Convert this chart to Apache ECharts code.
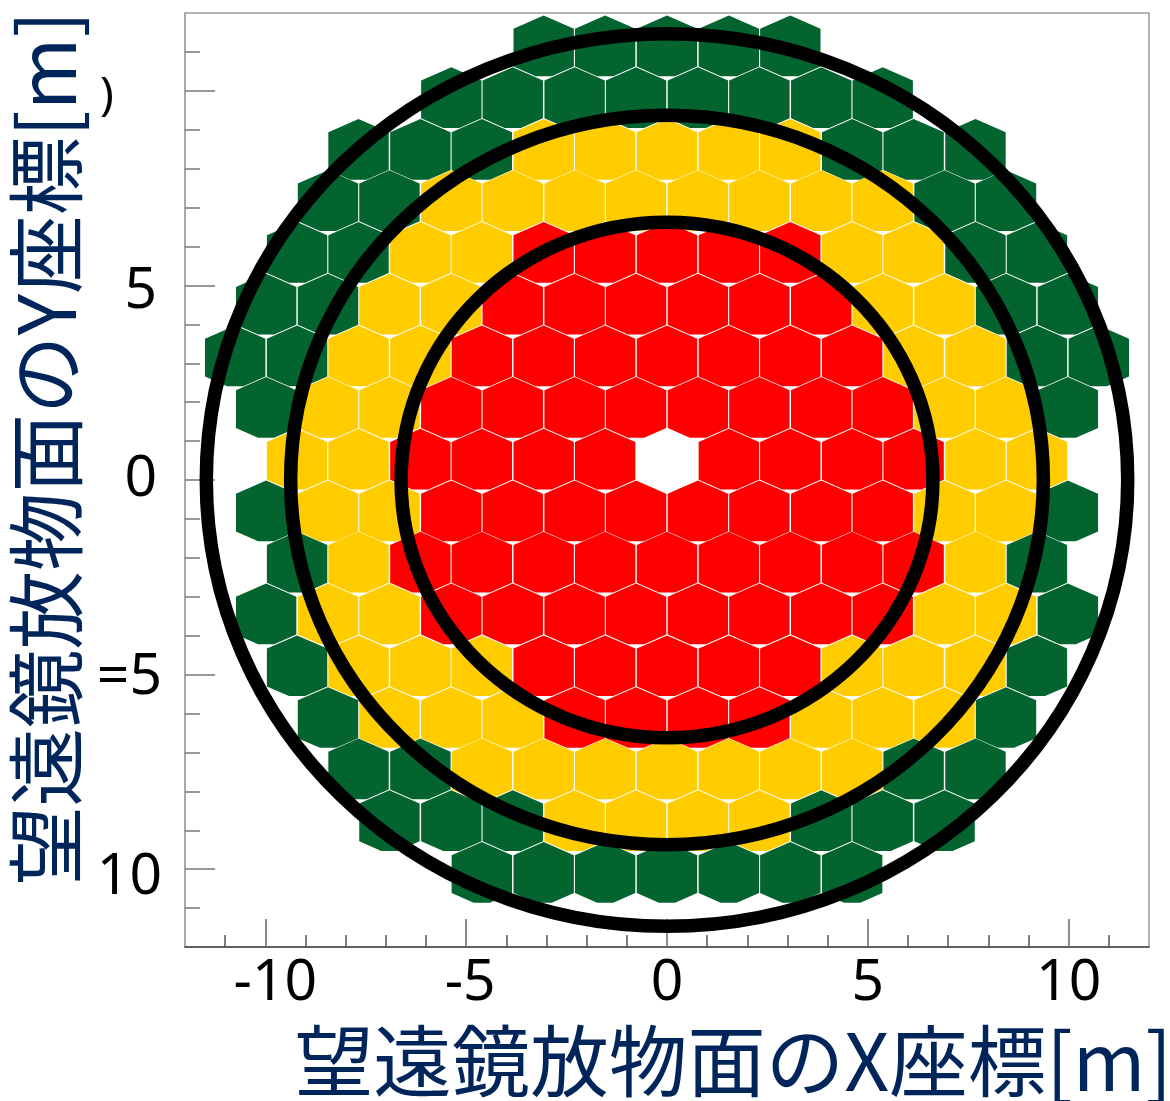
<!DOCTYPE html>
<html>
<head>
<meta charset="utf-8">
<script src="https://cdn.jsdelivr.net/npm/echarts@6/dist/echarts.min.js"></script>
<style>html,body{margin:0;padding:0;background:#fff}#c{width:1170px;height:1101px}</style>
</head>
<body>
<div id="c"></div>
<script>
// Mirror centres: y of each row (m), and |x| of the mirrors in that row by zone (m).
const rowY = [11.11, 9.78, 8.45, 7.13, 5.80, 4.47, 3.14, 1.82, 0.49, -0.84, -2.16, -3.49, -4.82, -6.15, -7.47, -8.80, -10.13];
const outerX = [
  [0, 1.54, 3.07], [0.77, 2.30, 3.84, 5.37], [4.61, 6.14, 7.68], [6.91, 8.44], [7.68, 9.21],
  [8.44, 9.98], [9.21, 10.75], [9.98], [], [9.98], [9.21], [9.98], [9.21], [8.44],
  [6.14, 7.68], [3.84, 5.37, 6.91], [0, 1.54, 3.07, 4.61]
];
const middleX = [
  [], [], [0, 1.54, 3.07], [0.77, 2.30, 3.84, 5.37], [4.61, 6.14],
  [5.37, 6.91], [6.14, 7.68], [6.91, 8.44], [7.68, 9.21], [6.91, 8.44], [7.68], [6.91, 8.44], [4.61, 6.14, 7.68], [3.84, 5.37, 6.91],
  [0, 1.54, 3.07, 4.61], [0.77, 2.30], []
];
const innerX = [
  [], [], [], [], [0, 1.54, 3.07],
  [0.77, 2.30, 3.84], [0, 1.54, 3.07, 4.61], [0.77, 2.30, 3.84, 5.37], [1.54, 3.07, 4.61, 6.14], [0.77, 2.30, 3.84, 5.37],
  [0, 1.54, 3.07, 4.61, 6.14], [0.77, 2.30, 3.84, 5.37], [0, 1.54, 3.07], [0.77, 2.30], [], [], []
];
const ringRadii = [11.47, 9.37, 6.62];
const majorTicks = [-10, -5, 0, 5, 10];
const minorTicks = [-11, -9, -8, -7, -6, -4, -3, -2, -1, 1, 2, 3, 4, 6, 7, 8, 9, 11];
const xTickLabels = { '-10': '{w|-10}', '-5': '{n|-5}', '0': '{p|0}', '5': '{p|5}', '10': '{p|10}' };
const yTickLabels = { '-10': '{c|10}', '-5': '{b|=5}', '0': '{p|0}', '5': '{a|5}', '10': '' };
const xTitle = '望遠鏡放物面のX座標[m]';
const yTitle = '望遠鏡放物面のY座標[m]';

const navy = '#00255A';
const hexPath = 'path://M0,-32.2L30,-19L30,18.8L8,28.5L-8,28.5L-30,18.8L-30,-19Z';

function points(table) {
  const out = [];
  table.forEach((xs, i) => xs.forEach(x => {
    out.push([x, rowY[i]]);
    if (x !== 0) out.push([-x, rowY[i]]);
  }));
  return out;
}
function hexSeries(name, table, color) {
  return {
    name, type: 'scatter', xAxisIndex: 0, yAxisIndex: 0, data: points(table),
    symbol: hexPath, symbolSize: [60.4, 60.7], symbolOffset: [0, -1.85], silent: true, z: 2,
    itemStyle: { color, opacity: 1 }
  };
}
const labelFont = { fontFamily: '"Noto Sans", sans-serif', fontSize: 57, color: '#000' };
const chart = echarts.init(document.getElementById('c'), null, { renderer: 'canvas' });
chart.setOption({
  animation: false,
  backgroundColor: '#fff',
  grid: { left: 185, right: 21, top: 13, bottom: 154, outerBoundsMode: 'none', containLabel: false, show: true, borderColor: '#b4b4b4', borderWidth: 2, backgroundColor: '#fff' },
  xAxis: [
    {
      type: 'value', min: -12, max: 12, position: 'bottom', splitLine: { show: false },
      name: xTitle, nameLocation: 'end', nameGap: 23,
      nameTextStyle: { fontFamily: '"Noto Sans CJK JP", sans-serif', fontSize: 78.5, color: navy, align: 'right', verticalAlign: 'top', padding: [75, 0, 0, 0] },
      axisLine: { show: true, onZero: false, lineStyle: { color: '#444', width: 1.5 } },
      axisTick: { show: true, inside: true, length: 28, customValues: majorTicks, lineStyle: { color: '#666', width: 1.5 } },
      axisLabel: {
        ...labelFont, margin: 8, customValues: majorTicks, formatter: v => xTickLabels[v],
        rich: {
          p: { ...labelFont },
          n: { ...labelFont, padding: [0, 0, 0, 8] },
          w: { ...labelFont, padding: [0, 0, 0, 20] }
        }
      }
    },
    {
      type: 'value', min: -12, max: 12, position: 'bottom', splitLine: { show: false },
      axisLine: { show: false, onZero: false },
      axisTick: { show: true, inside: true, length: 12, customValues: minorTicks, lineStyle: { color: '#555', width: 1.5 } },
      axisLabel: { show: false }
    }
  ],
  yAxis: [
    {
      type: 'value', min: -12, max: 12, position: 'left', splitLine: { show: false },
      name: yTitle, nameLocation: 'middle', nameGap: 95, nameRotate: 90,
      nameTextStyle: { fontFamily: '"Noto Sans CJK JP", sans-serif', fontSize: 78.5, color: navy, padding: [0, 0, 0, 64] },
      axisLine: { show: true, onZero: false, lineStyle: { color: '#aaa', width: 2 } },
      axisTick: { show: true, inside: true, length: 30, customValues: majorTicks, lineStyle: { color: '#777', width: 1.5 } },
      axisLabel: {
        ...labelFont, margin: 23, align: 'right', customValues: majorTicks, formatter: v => yTickLabels[v],
        rich: {
          p: { ...labelFont, padding: [0, 5, 0, 0] },
          a: { ...labelFont, padding: [12, 5, 0, 0] },
          b: { ...labelFont, padding: [6, 0, 0, 0] },
          c: { ...labelFont, padding: [18, 0, 0, 0] }
        }
      }
    },
    {
      type: 'value', min: -12, max: 12, position: 'left', splitLine: { show: false },
      axisLine: { show: false, onZero: false },
      axisTick: { show: true, inside: true, length: 15, customValues: minorTicks, lineStyle: { color: '#777', width: 1.5 } },
      axisLabel: { show: false }
    }
  ],
  graphic: [{
    type: 'text', left: 100, top: 74, z: 10,
    style: { text: ')', fontFamily: '"Noto Sans", sans-serif', fontSize: 46, fill: '#000' }
  }],
  series: [
    hexSeries('外周', outerX, '#03642F'),
    hexSeries('中間', middleX, '#FFCC00'),
    hexSeries('内側', innerX, '#FF0000'),
    {
      type: 'custom', xAxisIndex: 0, yAxisIndex: 0, silent: true, z: 5, clip: false,
      data: ringRadii.map(r => [0, 0, r]),
      encode: { x: 0, y: 1 },
      renderItem: (params, api) => {
        const c = api.coord([api.value(0), api.value(1)]);
        const s = api.size([api.value(2), api.value(2)]);
        return {
          type: 'ellipse',
          shape: { cx: c[0], cy: c[1], rx: s[0], ry: s[1] },
          style: { fill: 'none', stroke: '#000', lineWidth: 13.5 }
        };
      }
    }
  ]
});
</script>
</body>
</html>
